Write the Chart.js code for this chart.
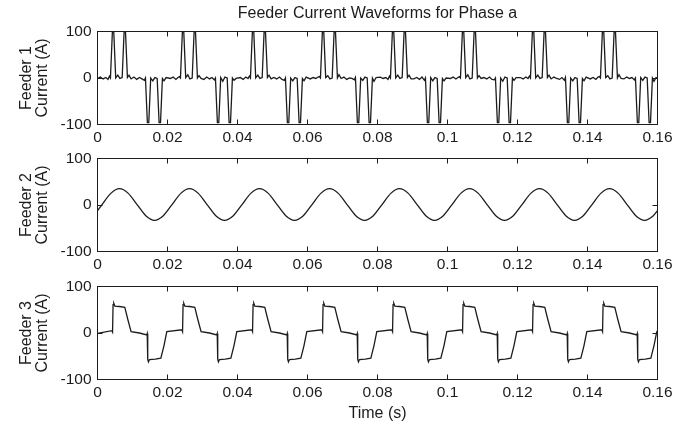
<!DOCTYPE html>
<html>
<head>
<meta charset="utf-8">
<script src="https://cdn.jsdelivr.net/npm/chart.js@4.4.1/dist/chart.umd.min.js"></script>
<style>
  html, body { margin: 0; padding: 0; background: #fff; }
  #wrap { position: relative; width: 695px; height: 428px; overflow: hidden; }
  canvas { position: absolute; left: 0; }
</style>
</head>
<body>
<div id="wrap">
  <canvas id="feeder1" width="695" height="173" style="top:0px"></canvas>
  <canvas id="feeder2" width="695" height="173" style="top:127px"></canvas>
  <canvas id="feeder3" width="695" height="173" style="top:255px"></canvas>
</div>
<script>
// ----------------------------
// DATA (time in ms, current in A)
// ----------------------------
const xTickLabels = ['0', '0.02', '0.04', '0.06', '0.08', '0.1', '0.12', '0.14', '0.16'];
const yTickLabels = ['-100', '0', '100'];

const feeder1Time = [
  0,
  0.8, 1.6, 2.4, 3.0, 3.4, 3.7, 4.25, 4.65, 5.2, 5.8, 6.4, 7.05, 7.6, 8.0, 8.55, 9.0, 9.6, 10.4, 11.2, 12.0, 12.7, 13.4, 13.7, 14.25, 14.65, 15.2, 15.8, 16.4, 17.05, 17.6, 18.0, 18.55, 19.0, 19.6,
  20.8, 21.6, 22.4, 23.0, 23.4, 23.7, 24.25, 24.65, 25.2, 25.8, 26.4, 27.05, 27.6, 28.0, 28.55, 29.0, 29.6, 30.4, 31.2, 32.0, 32.7, 33.4, 33.7, 34.25, 34.65, 35.2, 35.8, 36.4, 37.05, 37.6, 38.0, 38.55, 39.0, 39.6,
  40.8, 41.6, 42.4, 43.0, 43.4, 43.7, 44.25, 44.65, 45.2, 45.8, 46.4, 47.05, 47.6, 48.0, 48.55, 49.0, 49.6, 50.4, 51.2, 52.0, 52.7, 53.4, 53.7, 54.25, 54.65, 55.2, 55.8, 56.4, 57.05, 57.6, 58.0, 58.55, 59.0, 59.6,
  60.8, 61.6, 62.4, 63.0, 63.4, 63.7, 64.25, 64.65, 65.2, 65.8, 66.4, 67.05, 67.6, 68.0, 68.55, 69.0, 69.6, 70.4, 71.2, 72.0, 72.7, 73.4, 73.7, 74.25, 74.65, 75.2, 75.8, 76.4, 77.05, 77.6, 78.0, 78.55, 79.0, 79.6,
  80.8, 81.6, 82.4, 83.0, 83.4, 83.7, 84.25, 84.65, 85.2, 85.8, 86.4, 87.05, 87.6, 88.0, 88.55, 89.0, 89.6, 90.4, 91.2, 92.0, 92.7, 93.4, 93.7, 94.25, 94.65, 95.2, 95.8, 96.4, 97.05, 97.6, 98.0, 98.55, 99.0, 99.6,
  100.8, 101.6, 102.4, 103.0, 103.4, 103.7, 104.25, 104.65, 105.2, 105.8, 106.4, 107.05, 107.6, 108.0, 108.55, 109.0, 109.6, 110.4, 111.2, 112.0, 112.7, 113.4, 113.7, 114.25, 114.65, 115.2, 115.8, 116.4, 117.05, 117.6, 118.0, 118.55, 119.0, 119.6,
  120.8, 121.6, 122.4, 123.0, 123.4, 123.7, 124.25, 124.65, 125.2, 125.8, 126.4, 127.05, 127.6, 128.0, 128.55, 129.0, 129.6, 130.4, 131.2, 132.0, 132.7, 133.4, 133.7, 134.25, 134.65, 135.2, 135.8, 136.4, 137.05, 137.6, 138.0, 138.55, 139.0, 139.6,
  140.8, 141.6, 142.4, 143.0, 143.4, 143.7, 144.25, 144.65, 145.2, 145.8, 146.4, 147.05, 147.6, 148.0, 148.55, 149.0, 149.6, 150.4, 151.2, 152.0, 152.7, 153.4, 153.7, 154.25, 154.65, 155.2, 155.8, 156.4, 157.05, 157.6, 158.0, 158.55, 159.0, 159.6,
  160
];
const feeder1Current = [
  -1,
  2, -2, 1, -3, 4, 0, 99, 99, 0, 6, -1, 1, 99, 99, 1, 6, -2, 2, -3, 1, -2, -5, 0, -96, -96, 0, -6, 1, -1, -96, -96, -1, -6, 1,
  -1, 2, -3, 1, 3, 0, 99, 99, 1, 7, -2, 0, 99, 99, 0, 5, -1, -3, 2, -2, 1, -4, 0, -96, -96, 1, -7, 2, 0, -96, -96, 0, -5, -1,
  1, -3, 2, -1, 4, 0, 99, 99, 0, 6, -1, 1, 99, 99, 1, 6, -2, 1, -2, 2, -3, -5, 0, -96, -96, 0, -6, 1, -1, -96, -96, -1, -6, 2,
  -2, 1, -1, 2, 3, 0, 99, 99, 1, 5, -2, 0, 99, 99, 0, 7, -1, 2, -3, 0, -1, -4, 1, -96, -96, 0, -5, 2, 0, -96, -96, 0, -7, 1,
  2, -1, 1, -3, 4, 0, 99, 99, 0, 6, -1, 1, 99, 99, 1, 6, -2, -2, 1, -3, 2, -5, 0, -96, -96, 1, -6, 1, -1, -96, -96, -1, -6, 0,
  -1, 2, -2, 1, 3, 0, 99, 99, 1, 7, -2, 0, 99, 99, 0, 5, -1, 1, -2, 2, -3, -4, 0, -96, -96, 0, -7, 2, 0, -96, -96, 0, -5, 1,
  1, -2, 2, -1, 4, 0, 99, 99, 0, 6, -1, 1, 99, 99, 1, 6, -2, 2, -1, -3, 1, -5, 1, -96, -96, 0, -6, 1, -1, -96, -96, -1, -6, 2,
  -2, 1, -3, 2, 3, 0, 99, 99, 1, 5, -2, 0, 99, 99, 0, 7, -1, -2, 2, -1, 1, -4, 0, -96, -96, 1, -5, 2, 0, -96, -96, 0, -7, 1,
  0
];

const feeder2Time = [
  0,
  1.3, 3.8, 6.3, 8.8, 11.3, 13.8, 16.3, 18.8,
  21.3, 23.8, 26.3, 28.8, 31.3, 33.8, 36.3, 38.8,
  41.3, 43.8, 46.3, 48.8, 51.3, 53.8, 56.3, 58.8,
  61.3, 63.8, 66.3, 68.8, 71.3, 73.8, 76.3, 78.8,
  81.3, 83.8, 86.3, 88.8, 91.3, 93.8, 96.3, 98.8,
  101.3, 103.8, 106.3, 108.8, 111.3, 113.8, 116.3, 118.8,
  121.3, 123.8, 126.3, 128.8, 131.3, 133.8, 136.3, 138.8,
  141.3, 143.8, 146.3, 148.8, 151.3, 153.8, 156.3, 158.8,
  160
];
const feeder2Current = [
  -12,
  1, 25, 35, 25, 1, -23, -33, -23,
  1, 25, 35, 25, 1, -23, -33, -23,
  1, 25, 35, 25, 1, -23, -33, -23,
  1, 25, 35, 25, 1, -23, -33, -23,
  1, 25, 35, 25, 1, -23, -33, -23,
  1, 25, 35, 25, 1, -23, -33, -23,
  1, 25, 35, 25, 1, -23, -33, -23,
  1, 25, 35, 25, 1, -23, -33, -23,
  -12
];

const feeder3Time = [
  0,
  4.1, 4.3, 4.45, 4.65, 4.95, 6.3, 7.8, 8.7, 9.6, 12.0, 14.05, 14.2, 14.35, 14.55, 14.85, 16.5, 18.1, 19.0, 19.8,
  24.1, 24.3, 24.45, 24.65, 24.95, 26.3, 27.8, 28.7, 29.6, 32.0, 34.05, 34.2, 34.35, 34.55, 34.85, 36.5, 38.1, 39.0, 39.8,
  44.1, 44.3, 44.45, 44.65, 44.95, 46.3, 47.8, 48.7, 49.6, 52.0, 54.05, 54.2, 54.35, 54.55, 54.85, 56.5, 58.1, 59.0, 59.8,
  64.1, 64.3, 64.45, 64.65, 64.95, 66.3, 67.8, 68.7, 69.6, 72.0, 74.05, 74.2, 74.35, 74.55, 74.85, 76.5, 78.1, 79.0, 79.8,
  84.1, 84.3, 84.45, 84.65, 84.95, 86.3, 87.8, 88.7, 89.6, 92.0, 94.05, 94.2, 94.35, 94.55, 94.85, 96.5, 98.1, 99.0, 99.8,
  104.1, 104.3, 104.45, 104.65, 104.95, 106.3, 107.8, 108.7, 109.6, 112.0, 114.05, 114.2, 114.35, 114.55, 114.85, 116.5, 118.1, 119.0, 119.8,
  124.1, 124.3, 124.45, 124.65, 124.95, 126.3, 127.8, 128.7, 129.6, 132.0, 134.05, 134.2, 134.35, 134.55, 134.85, 136.5, 138.1, 139.0, 139.8,
  144.1, 144.3, 144.45, 144.65, 144.95, 146.3, 147.8, 148.7, 149.6, 152.0, 154.05, 154.2, 154.35, 154.55, 154.85, 156.5, 158.1, 159.0, 159.8,
  160
];
const feeder3Current = [
  -1,
  5, 2, 61, 64, 58, 57, 55, 28, 3, 0, -4, -1, -57, -62, -57, -56, -54, -27, 3,
  7, 3, 61, 64, 58, 57, 55, 28, 3, 0, -4, -1, -57, -62, -57, -56, -54, -27, 3,
  7, 3, 61, 64, 58, 57, 55, 28, 3, 0, -4, -1, -57, -62, -57, -56, -54, -27, 3,
  7, 3, 61, 64, 58, 57, 55, 28, 3, 0, -4, -1, -57, -62, -57, -56, -54, -27, 3,
  7, 3, 61, 64, 58, 57, 55, 28, 3, 0, -4, -1, -57, -62, -57, -56, -54, -27, 3,
  7, 3, 61, 64, 58, 57, 55, 28, 3, 0, -4, -1, -57, -62, -57, -56, -54, -27, 3,
  7, 3, 61, 64, 58, 57, 55, 28, 3, 0, -4, -1, -57, -62, -57, -56, -54, -27, 3,
  7, 3, 61, 64, 58, 57, 55, 28, 3, 0, -4, -1, -57, -62, -57, -56, -54, -27, 3,
  4
];

// ----------------------------
// STYLE
// ----------------------------
const INK = '#1c1c1c';
const FONT = 'Arial, "Liberation Sans", Helvetica, sans-serif';

// box + inward tick marks, MATLAB style
const frameTicks = {
  id: 'frameTicks',
  afterDraw(chart) {
    const { ctx, chartArea: a, scales: { x, y } } = chart;
    ctx.save();
    ctx.strokeStyle = INK;
    ctx.lineWidth = 1;
    ctx.beginPath();
    x.ticks.forEach(t => {
      const px = Math.floor(x.getPixelForValue(t.value)) + 0.5;
      ctx.moveTo(px, a.bottom); ctx.lineTo(px, a.bottom - 5);
      ctx.moveTo(px, a.top); ctx.lineTo(px, a.top + 5);
    });
    y.ticks.forEach(t => {
      const py = Math.floor(y.getPixelForValue(t.value)) + 0.5;
      ctx.moveTo(a.left, py); ctx.lineTo(a.left + 5, py);
      ctx.moveTo(a.right, py); ctx.lineTo(a.right - 5, py);
    });
    ctx.stroke();
    ctx.strokeRect(a.left, a.top, a.right - a.left, a.bottom - a.top);
    ctx.restore();
  }
};

function makeChart(id, times, currents, yTitle, opts) {
  const points = times.map((t, i) => ({ x: t, y: currents[i] }));
  return new Chart(document.getElementById(id), {
    type: 'line',
    data: {
      datasets: [{
        data: points,
        borderColor: INK,
        borderWidth: 1.3,
        pointRadius: 0,
        tension: 0,
        cubicInterpolationMode: opts.smooth ? 'monotone' : 'default'
      }]
    },
    options: {
      responsive: false,
      animation: false,
      events: [],
      layout: { padding: { top: opts.title ? 0 : 31.5, right: 37.5, left: 0, bottom: 0 } },
      plugins: {
        legend: { display: false },
        tooltip: { enabled: false },
        title: {
          display: !!opts.title,
          text: opts.title || '',
          fullSize: false,
          color: INK,
          font: { family: FONT, size: 16, weight: 'normal', lineHeight: 1.2 },
          padding: { top: 4, bottom: 8.3 }
        }
      },
      scales: {
        x: {
          type: 'linear',
          min: 0, max: 160,
          afterFit(s) { s.height = 48.5; },
          grid: { display: false, drawTicks: false },
          border: { display: false },
          ticks: {
            stepSize: 20, autoSkip: false, maxRotation: 0, padding: 4,
            color: INK, font: { family: FONT, size: 15.5 },
            callback: (v, i) => xTickLabels[i]
          },
          title: {
            display: !!opts.xTitle,
            text: opts.xTitle || '',
            color: INK,
            font: { family: FONT, size: 16, lineHeight: 1.2 },
            padding: { top: 0, bottom: 5 }
          }
        },
        y: {
          min: -100, max: 100,
          afterFit(s) { s.width = 97.5; },
          grid: { display: false, drawTicks: false },
          border: { display: false },
          ticks: {
            stepSize: 100, padding: 6,
            color: INK, font: { family: FONT, size: 15.5 },
            callback: (v, i) => yTickLabels[i]
          },
          title: {
            display: true,
            text: yTitle,
            color: INK,
            font: { family: FONT, size: 16, lineHeight: 1 },
            padding: { top: 19, bottom: 0 }
          }
        }
      }
    },
    plugins: [frameTicks]
  });
}

makeChart('feeder1', feeder1Time, feeder1Current, ['Feeder 1', 'Current (A)'],
  { title: 'Feeder Current Waveforms for Phase a' });
makeChart('feeder2', feeder2Time, feeder2Current, ['Feeder 2', 'Current (A)'],
  { smooth: true });
makeChart('feeder3', feeder3Time, feeder3Current, ['Feeder 3', 'Current (A)'],
  { xTitle: 'Time (s)' });
</script>
</body>
</html>
